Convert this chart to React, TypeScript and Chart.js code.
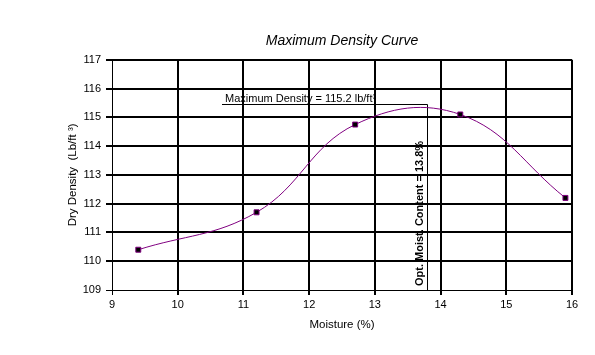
import React, { useEffect, useRef } from "react";
import { Chart, registerables } from "chart.js";

Chart.register(...registerables);

// ---- Data ----
const moisture = [9.4, 11.2, 12.7, 14.3, 15.9];
const dryDensity = [110.4, 111.7, 114.75, 115.1, 112.2];

const X_MIN = 9;
const X_MAX = 16;
const Y_MIN = 109;
const Y_MAX = 117;
const TICK_STEP = 1;

// annotation values
const OPT_MOISTURE = 13.8;
const MAX_DENSITY_LEVEL = 115.45;
const LABEL_START_MOISTURE = 10.67;

const titleText = "Maximum Density Curve";
const xTitle = "Moisture (%)";
const yTitle = "Dry Density  (Lb/ft \u00B3)";
const maxLabel = "Maximum Density = 115.2 lb/ft\u00B3";
const optLabel = "Opt. Moist. Content = 13.8%";

const FONT = "'Liberation Sans', Arial, Helvetica, sans-serif";

const annotationPlugin = {
  id: "densityAnnotations",
  beforeDatasetsDraw(chart: any) {
    const { ctx, scales } = chart;
    const x = scales.x;
    const y = scales.y;
    const lx = Math.round(x.getPixelForValue(OPT_MOISTURE)) + 0.5;
    const ly = Math.round(y.getPixelForValue(MAX_DENSITY_LEVEL)) + 0.5;
    const sx = Math.round(x.getPixelForValue(LABEL_START_MOISTURE));
    const by = y.getPixelForValue(Y_MIN);
    ctx.save();
    ctx.strokeStyle = "#000";
    ctx.lineWidth = 1;
    ctx.beginPath();
    ctx.moveTo(sx, ly);
    ctx.lineTo(lx, ly);
    ctx.lineTo(lx, by);
    ctx.stroke();
    ctx.fillStyle = "#000";
    ctx.textAlign = "left";
    ctx.textBaseline = "alphabetic";
    ctx.font = `11px ${FONT}`;
    ctx.fillText(maxLabel, sx + 3, ly - 2.5);
    ctx.translate(lx - 5, by - 4);
    ctx.rotate(-Math.PI / 2);
    ctx.font = `bold 11px ${FONT}`;
    ctx.fillText(optLabel, 0, 0);
    ctx.restore();
  },
};

export default function App() {
  const canvasRef = useRef<HTMLCanvasElement | null>(null);

  useEffect(() => {
    if (!canvasRef.current) return;
    Chart.defaults.font.family = FONT;
    Chart.defaults.color = "#000";
    const points = moisture.map((m, i) => ({ x: m, y: dryDensity[i] }));
    const gridWidth = (c: any) => (c.index === 0 ? 1 : 2);
    const chart = new Chart(canvasRef.current, {
      type: "scatter",
      data: {
        datasets: [
          {
            data: points,
            showLine: true,
            borderColor: "#800080",
            borderWidth: 1,
            tension: 0.4,
            pointStyle: "rect",
            pointRadius: 3.5,
            pointBackgroundColor: "#000",
            pointBorderColor: "#800080",
            pointBorderWidth: 1,
          },
        ],
      },
      options: {
        responsive: false,
        animation: false,
        layout: { padding: { left: 0, right: 23, top: 0, bottom: 0 } },
        plugins: {
          legend: { display: false },
          tooltip: { enabled: false },
          title: {
            display: true,
            fullSize: false,
            text: titleText,
            color: "#000",
            font: { size: 14, style: "italic", weight: "normal", family: FONT },
            padding: { top: 33, bottom: 10 },
          },
        },
        scales: {
          x: {
            type: "linear",
            min: X_MIN,
            max: X_MAX,
            afterFit: (s: any) => {
              s.height = 65;
            },
            ticks: { stepSize: TICK_STEP, color: "#000", font: { size: 11 }, padding: 3, maxRotation: 0 },
            grid: { color: "#000", lineWidth: gridWidth, tickLength: 5 },
            border: { color: "#000", width: 1 },
            title: {
              display: true,
              text: xTitle,
              color: "#000",
              font: { size: 11.5 },
              padding: { top: 0, bottom: 23 },
            },
          },
          y: {
            type: "linear",
            min: Y_MIN,
            max: Y_MAX,
            afterFit: (s: any) => {
              s.width = 112;
            },
            ticks: { stepSize: TICK_STEP, color: "#000", font: { size: 11 }, padding: 5 },
            grid: { color: "#000", lineWidth: gridWidth, tickLength: 6 },
            border: { color: "#000", width: 1 },
            title: {
              display: true,
              text: yTitle,
              color: "#000",
              font: { size: 11.5 },
              padding: { top: 66, bottom: 0 },
            },
          },
        },
      },
      plugins: [annotationPlugin],
    });
    return () => chart.destroy();
  }, []);

  return (
    <div style={{ position: "fixed", left: 0, top: 0, width: 595, height: 355, background: "#fff" }}>
      <canvas ref={canvasRef} width={595} height={355} />
    </div>
  );
}
